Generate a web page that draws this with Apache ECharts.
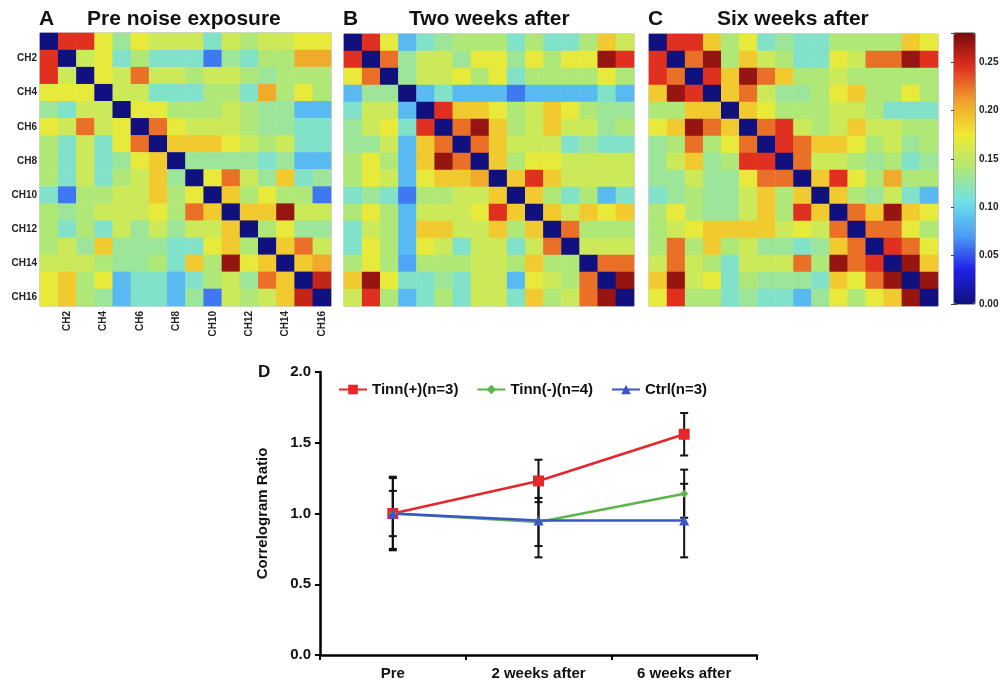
<!DOCTYPE html>
<html><head><meta charset="utf-8">
<script src="https://cdn.jsdelivr.net/npm/echarts@6/dist/echarts.min.js"></script>
<style>html,body{margin:0;padding:0;background:#fff}#c{width:1003px;height:686px}</style>
</head><body><div id="c"></div>
<script>
// ---------- data ----------
const channels = ['CH1','CH2','CH3','CH4','CH5','CH6','CH7','CH8','CH9','CH10','CH11','CH12','CH13','CH14','CH15','CH16'];

const matrixPre = [
[0,.245,.245,.17,.13,.17,.155,.155,.155,.115,.155,.14,.155,.155,.17,.17],
[.245,0,.155,.17,.115,.14,.115,.115,.115,.06,.13,.115,.14,.14,.205,.205],
[.245,.155,0,.17,.155,.225,.155,.155,.14,.155,.155,.14,.13,.14,.14,.14],
[.17,.17,.17,0,.155,.155,.115,.115,.115,.14,.14,.115,.205,.14,.17,.14],
[.13,.115,.155,.155,0,.17,.17,.14,.14,.14,.155,.14,.13,.13,.085,.085],
[.17,.155,.225,.155,.17,0,.225,.17,.155,.155,.155,.14,.13,.13,.115,.115],
[.14,.115,.155,.115,.17,.225,0,.19,.19,.19,.17,.155,.14,.155,.115,.115],
[.14,.115,.155,.115,.13,.17,.19,0,.13,.13,.13,.13,.115,.13,.085,.085],
[.14,.115,.155,.115,.14,.155,.19,.13,0,.17,.225,.155,.13,.19,.115,.13],
[.115,.06,.14,.14,.155,.155,.19,.14,.17,0,.19,.14,.17,.14,.14,.06],
[.14,.13,.14,.155,.155,.155,.17,.14,.225,.19,0,.19,.19,.27,.155,.155],
[.14,.115,.14,.115,.155,.13,.155,.13,.155,.155,.19,0,.14,.17,.13,.13],
[.14,.155,.13,.19,.13,.13,.13,.115,.115,.17,.19,.14,0,.19,.225,.155],
[.155,.155,.155,.14,.13,.13,.14,.115,.19,.14,.27,.17,.19,0,.19,.205],
[.17,.19,.14,.17,.085,.115,.115,.085,.115,.14,.155,.13,.225,.19,0,.255],
[.17,.19,.14,.13,.085,.115,.115,.085,.13,.06,.155,.14,.155,.19,.255,0]
];

const matrixTwoWeeks = [
[0,.245,.17,.085,.115,.13,.14,.14,.14,.115,.14,.115,.115,.14,.19,.155],
[.245,0,.225,.13,.155,.155,.13,.17,.17,.13,.17,.14,.17,.17,.27,.245],
[.17,.225,0,.13,.155,.155,.17,.14,.17,.115,.14,.14,.14,.14,.17,.14],
[.085,.13,.13,0,.085,.115,.085,.085,.085,.06,.085,.085,.085,.085,.115,.085],
[.115,.155,.155,.085,0,.245,.19,.19,.17,.14,.155,.19,.17,.14,.13,.13],
[.13,.155,.17,.115,.245,0,.225,.27,.19,.14,.155,.19,.155,.155,.13,.14],
[.13,.13,.155,.085,.19,.225,0,.225,.19,.155,.155,.155,.115,.13,.115,.115],
[.14,.17,.14,.085,.19,.27,.225,0,.19,.14,.17,.17,.155,.155,.155,.155],
[.14,.17,.155,.085,.17,.19,.19,.205,0,.19,.245,.19,.155,.155,.155,.155],
[.115,.13,.115,.06,.14,.14,.155,.155,.19,0,.19,.14,.115,.14,.085,.115],
[.14,.17,.14,.085,.155,.155,.155,.17,.245,.19,0,.19,.155,.19,.17,.19],
[.115,.155,.14,.085,.19,.19,.155,.155,.19,.14,.19,0,.225,.14,.14,.14],
[.115,.17,.14,.085,.17,.155,.115,.155,.155,.115,.155,.225,0,.155,.155,.155],
[.14,.17,.14,.075,.14,.14,.14,.155,.155,.14,.19,.14,.14,0,.225,.225],
[.19,.27,.17,.115,.115,.13,.115,.155,.155,.085,.17,.155,.14,.225,0,.27],
[.155,.245,.14,.085,.115,.14,.115,.155,.155,.115,.19,.14,.155,.225,.27,0]
];

const matrixSixWeeks = [
[0,.245,.245,.19,.14,.17,.115,.13,.115,.115,.14,.14,.14,.14,.19,.17],
[.245,0,.225,.27,.14,.19,.155,.14,.115,.115,.17,.155,.225,.225,.27,.245],
[.245,.225,0,.245,.19,.27,.225,.19,.14,.14,.155,.14,.14,.14,.14,.14],
[.19,.27,.245,0,.19,.225,.155,.13,.13,.14,.17,.19,.14,.14,.17,.14],
[.14,.14,.19,.19,0,.19,.17,.14,.14,.14,.155,.155,.14,.115,.115,.115],
[.17,.19,.27,.225,.19,0,.225,.245,.155,.14,.155,.19,.155,.155,.14,.14],
[.13,.14,.225,.14,.17,.225,0,.245,.225,.19,.19,.17,.14,.155,.13,.14],
[.13,.155,.19,.13,.14,.245,.245,0,.225,.155,.155,.14,.13,.14,.115,.13],
[.13,.13,.155,.13,.13,.17,.225,.225,0,.19,.245,.17,.14,.205,.14,.14],
[.115,.13,.14,.13,.13,.155,.19,.14,.19,0,.19,.14,.13,.155,.115,.085],
[.14,.17,.14,.13,.13,.155,.19,.14,.245,.19,0,.225,.19,.27,.19,.17],
[.14,.155,.17,.19,.19,.19,.19,.155,.17,.155,.225,0,.225,.225,.17,.14],
[.14,.225,.14,.19,.14,.155,.13,.13,.115,.13,.19,.225,0,.245,.225,.17],
[.155,.225,.155,.14,.115,.155,.155,.155,.225,.14,.27,.225,.245,0,.27,.19],
[.19,.27,.155,.17,.115,.14,.13,.13,.13,.115,.19,.17,.225,.27,0,.27],
[.17,.245,.14,.14,.115,.13,.115,.115,.085,.13,.17,.14,.17,.19,.27,0]
];

const panelTitles = ['Pre noise exposure','Two weeks after','Six weeks after'];
const panelLetters = ['A','B','C'];
const colorMin = 0, colorMax = 0.28;

const timepoints = ['Pre','2 weeks after','6 weeks after'];
const tinnPos = [1.00, 1.23, 1.56];
const tinnPosErr = [0.16, 0.15, 0.15];
const tinnNeg = [1.00, 0.94, 1.14];
const tinnNegErr = [0.26, 0.17, 0.17];
const ctrl = [1.00, 0.95, 0.95];
const ctrlErr = [0.25, 0.26, 0.26];

// ---------- chart ----------
const FONT = 'Liberation Sans, Arial, sans-serif';
const jet = ['#10107e','#2020e8','#4a9cf6','#6ee0ea','#b0e878','#f0ea30','#f0a02c','#e0301f','#7a0a0a'];
const toCells = m => m.flatMap((row, r) => row.map((v, c) => [c, r, v]));
const evenIdx = idx => idx % 2 === 1;

const heatGrids = [
  {left: 40, top: 33, width: 291, height: 273},
  {left: 344, top: 34, width: 290, height: 272},
  {left: 649, top: 34, width: 289, height: 272}
];

const grids = heatGrids.map(g => Object.assign({show: true, borderColor: '#aaa', borderWidth: 1, backgroundColor: 'transparent'}, g)).concat([
  {left: 320, top: 372, width: 437, height: 283},
  {left: 954, top: 33, width: 21, height: 271, show: true, borderColor: '#444', borderWidth: 1, backgroundColor: 'transparent'}
]);

const xAxes = [], yAxes = [];
for (let i = 0; i < 3; i++) {
  xAxes.push({type: 'category', gridIndex: i, data: channels, position: 'bottom',
    axisLine: {show: false}, splitLine: {show: false},
    axisTick: {show: true, inside: true, length: 3, interval: evenIdx, alignWithLabel: true, lineStyle: {color: '#555'}},
    axisLabel: {show: i === 0, rotate: 90, interval: evenIdx, fontSize: 10, fontWeight: 'bold', color: '#222', fontFamily: FONT, margin: 5}});
  yAxes.push({type: 'category', gridIndex: i, data: channels, inverse: true,
    axisLine: {show: false}, splitLine: {show: false},
    axisTick: {show: true, inside: true, length: 3, interval: evenIdx, alignWithLabel: true, lineStyle: {color: '#555'}},
    axisLabel: {show: i === 0, interval: evenIdx, fontSize: 10, fontWeight: 'bold', color: '#222', fontFamily: FONT, margin: 3}});
}
xAxes.push({type: 'category', gridIndex: 3, data: timepoints, boundaryGap: true,
  axisLine: {lineStyle: {color: '#000', width: 2.5}},
  axisTick: {show: true, length: 5, lineStyle: {color: '#000', width: 2}},
  axisLabel: {fontSize: 15, fontWeight: 'bold', color: '#111', fontFamily: FONT, margin: 11},
  splitLine: {show: false}});
yAxes.push({type: 'value', gridIndex: 3, min: 0, max: 2, interval: 0.5,
  axisLine: {show: true, lineStyle: {color: '#000', width: 2.5}},
  axisTick: {show: true, length: 5, lineStyle: {color: '#000', width: 2}},
  axisLabel: {fontSize: 15, fontWeight: 'bold', color: '#111', fontFamily: FONT, margin: 9, formatter: v => v.toFixed(1)},
  splitLine: {show: false},
  name: 'Correlogram Ratio', nameLocation: 'middle', nameGap: 50,
  nameTextStyle: {fontSize: 15, fontWeight: 'bold', color: '#111', fontFamily: FONT}});
xAxes.push({type: 'value', gridIndex: 4, show: false, min: 0, max: 1});
const cbTickLabel = v => (Math.abs(v / 0.05 - Math.round(v / 0.05)) < 1e-6 ? v.toFixed(2) : '');
yAxes.push({type: 'value', gridIndex: 4, min: colorMin, max: colorMax, interval: 0.05, position: 'right',
  axisLine: {show: false}, splitLine: {show: false},
  axisTick: {show: true, inside: true, length: 3, lineStyle: {color: '#444'}},
  axisLabel: {fontSize: 10, fontWeight: 'bold', color: '#222', fontFamily: FONT, margin: 4, formatter: cbTickLabel}});
yAxes.push({type: 'value', gridIndex: 4, min: colorMin, max: colorMax, interval: 0.05, position: 'left',
  axisLine: {show: false}, splitLine: {show: false},
  axisTick: {show: true, inside: true, length: 3, lineStyle: {color: '#444'}},
  axisLabel: {show: false}});

function errBar(params, api) {
  const x = api.value(0);
  const lo = api.coord([x, api.value(1)]);
  const hi = api.coord([x, api.value(2)]);
  const w = 4;
  const st = {stroke: '#111', lineWidth: 2};
  return {type: 'group', children: [
    {type: 'line', shape: {x1: hi[0], y1: hi[1], x2: lo[0], y2: lo[1]}, style: st},
    {type: 'line', shape: {x1: hi[0] - w, y1: hi[1], x2: hi[0] + w, y2: hi[1]}, style: st},
    {type: 'line', shape: {x1: lo[0] - w, y1: lo[1], x2: lo[0] + w, y2: lo[1]}, style: st}
  ]};
}
const errData = (m, e) => m.map((v, i) => [i, v - e[i], v + e[i]]);

const series = [];
[matrixPre, matrixTwoWeeks, matrixSixWeeks].forEach((m, i) => {
  series.push({type: 'heatmap', xAxisIndex: i, yAxisIndex: i, data: toCells(m),
    itemStyle: {borderWidth: 0}, emphasis: {disabled: true}, progressive: 0, animation: false});
});
[[tinnPos, tinnPosErr], [tinnNeg, tinnNegErr], [ctrl, ctrlErr]].forEach(([m, e]) => {
  series.push({type: 'custom', xAxisIndex: 3, yAxisIndex: 3, renderItem: errBar,
    data: errData(m, e), encode: {x: 0, y: [1, 2]}, z: 3, silent: true});
});
series.push({name: 'Tinn(+)(n=3)', type: 'line', xAxisIndex: 3, yAxisIndex: 3, data: tinnPos,
  color: '#e5262b', symbol: 'rect', symbolSize: 11, lineStyle: {width: 2.5}, z: 4});
series.push({name: 'Tinn(-)(n=4)', type: 'line', xAxisIndex: 3, yAxisIndex: 3, data: tinnNeg,
  color: '#5cb548', symbol: 'diamond', symbolSize: 8, lineStyle: {width: 2.5}, z: 4});
series.push({name: 'Ctrl(n=3)', type: 'line', xAxisIndex: 3, yAxisIndex: 3, data: ctrl,
  color: '#3b55c6', symbol: 'triangle', symbolSize: 10, lineStyle: {width: 2.5}, z: 4});

const graphics = [];
heatGrids.forEach((g, i) => {
  graphics.push({type: 'text', left: g.left - 1, top: 9, style: {text: panelLetters[i], font: 'bold 21px ' + FONT, fill: '#111'}});
  graphics.push({type: 'text', left: [87, 409, 717][i], top: 9, style: {text: panelTitles[i], font: 'bold 21px ' + FONT, fill: '#111'}});
});
graphics.push({type: 'text', left: 258, top: 364, style: {text: 'D', font: 'bold 17px ' + FONT, fill: '#111'}});

const chart = echarts.init(document.getElementById('c'), null, {renderer: 'canvas'});
chart.setOption({
  animation: false,
  backgroundColor: '#fff',
  textStyle: {fontFamily: FONT},
  grid: grids,
  xAxis: xAxes,
  yAxis: yAxes,
  visualMap: {type: 'continuous', min: colorMin, max: colorMax, seriesIndex: [0, 1, 2],
    inRange: {color: jet}, left: 954, top: 33, itemWidth: 21, itemHeight: 271,
    calculable: false, hoverLink: false, padding: 0, text: null, show: true},
  legend: {data: ['Tinn(+)(n=3)', 'Tinn(-)(n=4)', 'Ctrl(n=3)'], left: 333, top: 377,
    itemWidth: 28, itemHeight: 12, itemGap: 18,
    textStyle: {fontSize: 15, fontWeight: 'bold', color: '#111', fontFamily: FONT}},
  graphic: graphics,
  series: series
});
</script></body></html>
